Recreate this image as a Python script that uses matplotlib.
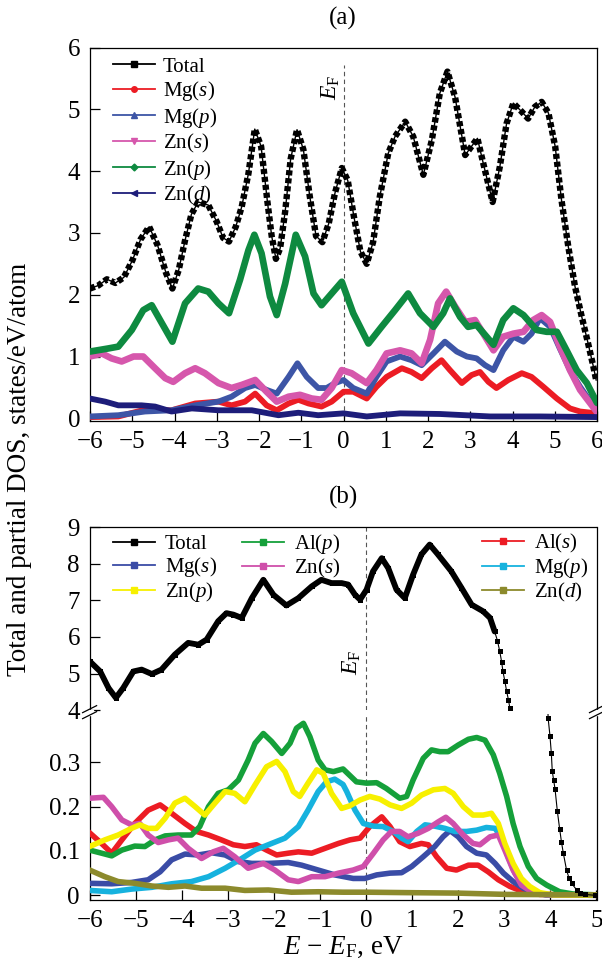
import numpy as np
import matplotlib
matplotlib.use("Agg")
import matplotlib.pyplot as plt
from matplotlib.lines import Line2D
from matplotlib.patches import Rectangle

plt.rcParams['font.family'] = ['Liberation Serif', 'DejaVu Serif']
plt.rcParams['mathtext.fontset'] = 'custom'
plt.rcParams['mathtext.rm'] = 'Liberation Serif'
plt.rcParams['mathtext.it'] = 'Liberation Serif:italic'
plt.rcParams['axes.linewidth'] = 0.9

# ---------------- Panel (a) data ----------------
E_tot_a = [-6.0, -5.8, -5.6, -5.4, -5.2, -5.0, -4.8, -4.6, -4.4, -4.2, -4.05, -3.9, -3.75, -3.6, -3.44,
           -3.2, -3.0, -2.85, -2.71, -2.55, -2.41, -2.25, -2.1, -1.95, -1.8, -1.7, -1.6, -1.5, -1.38,
           -1.25, -1.1, -0.95, -0.8, -0.65, -0.5, -0.35, -0.2, -0.04, 0.1, 0.25, 0.4, 0.55, 0.7, 0.86,
           1.06, 1.22, 1.46, 1.65, 1.89, 2.09, 2.28, 2.46, 2.64, 2.88, 3.03, 3.17, 3.31, 3.53, 3.70,
           3.86, 4.02, 4.22, 4.37, 4.53, 4.69, 4.85, 5.01, 5.16, 5.32, 5.48, 5.64, 5.79, 5.91, 5.98]
dos_tot_a = [2.10, 2.15, 2.25, 2.19, 2.28, 2.55, 2.90, 3.10, 2.80, 2.35, 2.10, 2.40, 2.88, 3.30, 3.50,
             3.45, 3.18, 2.92, 2.86, 3.10, 3.42, 3.96, 4.68, 4.40, 3.50, 2.95, 2.58, 2.75, 3.35,
             4.20, 4.67, 4.35, 3.60, 2.95, 2.85, 3.15, 3.65, 4.05, 3.85, 3.25, 2.70, 2.50, 2.85, 3.59,
             4.29, 4.56, 4.80, 4.56, 3.94, 4.50, 5.26, 5.61, 5.20, 4.26, 4.40, 4.53, 4.12, 3.50, 4.07,
             4.77, 5.10, 4.96, 4.85, 5.04, 5.12, 4.94, 4.40, 3.53, 2.78, 2.13, 1.64, 1.21, 0.85, 0.62]

E_mgs_a = [-6.0, -5.33, -4.7, -4.07, -3.51, -2.96, -2.65, -2.33, -2.09, -1.82, -1.58, -1.30, -1.07, -0.83,
           -0.52, -0.28, 0.0, 0.23, 0.55, 0.78, 1.02, 1.38, 1.61, 1.85, 2.09, 2.32, 2.52, 2.80, 3.03,
           3.23, 3.43, 3.62, 3.90, 4.22, 4.45, 4.73, 5.05, 5.36, 5.60, 6.0]
dos_mgs_a = [0.02, 0.03, 0.14, 0.13, 0.24, 0.27, 0.21, 0.27, 0.40, 0.21, 0.13, 0.24, 0.30, 0.24,
             0.19, 0.27, 0.43, 0.43, 0.32, 0.51, 0.67, 0.81, 0.75, 0.65, 0.81, 0.94, 0.78, 0.57, 0.70,
             0.75, 0.59, 0.49, 0.62, 0.73, 0.67, 0.51, 0.32, 0.16, 0.11, 0.08]

E_mgp_a = [-6.0, -5.33, -4.7, -4.07, -3.51, -2.96, -2.65, -2.33, -2.09, -1.82, -1.58, -1.30, -1.09, -0.87,
           -0.60, -0.40, -0.20, 0.0, 0.23, 0.55, 0.78, 1.02, 1.34, 1.61, 1.85, 2.13, 2.40, 2.68, 2.92,
           3.15, 3.35, 3.55, 3.78, 4.02, 4.26, 4.45, 4.65, 4.89, 5.12, 5.36, 5.60, 6.0]
dos_mgp_a = [0.03, 0.05, 0.11, 0.13, 0.21, 0.27, 0.35, 0.49, 0.54, 0.46, 0.40, 0.67, 0.89, 0.67,
             0.49, 0.49, 0.57, 0.62, 0.49, 0.40, 0.67, 0.92, 1.00, 0.94, 0.86, 1.05, 1.24, 1.08, 1.00,
             0.97, 0.86, 0.78, 1.10, 1.32, 1.24, 1.37, 1.62, 1.48, 1.13, 0.78, 0.51, 0.12]

E_zns_a = [-6.0, -5.72, -5.49, -5.25, -4.97, -4.74, -4.46, -4.22, -4.03, -3.75, -3.51, -3.28, -2.96, -2.65,
           -2.41, -2.09, -1.82, -1.58, -1.30, -1.03, -0.75, -0.52, -0.28, -0.04, 0.19, 0.55, 0.78, 1.02,
           1.34, 1.61, 1.85, 2.05, 2.24, 2.43, 2.64, 2.88, 3.11, 3.31, 3.55, 3.78, 4.02, 4.26, 4.49,
           4.69, 4.89, 5.12, 5.36, 5.60, 6.0]
dos_zns_a = [1.00, 1.05, 0.97, 0.92, 1.00, 1.00, 0.81, 0.65, 0.59, 0.73, 0.81, 0.73, 0.57, 0.49,
             0.54, 0.62, 0.43, 0.27, 0.35, 0.38, 0.32, 0.30, 0.49, 0.78, 0.73, 0.57, 0.78, 1.05,
             1.10, 1.05, 0.89, 1.27, 1.86, 2.05, 1.81, 1.56, 1.59, 1.37, 1.10, 1.32, 1.37, 1.40, 1.59,
             1.67, 1.56, 1.16, 0.78, 0.46, 0.10]

E_znp_a = [-6.0, -5.57, -5.33, -5.01, -4.74, -4.54, -4.30, -4.05, -3.75, -3.44, -3.20, -2.96, -2.71, -2.45,
           -2.25, -2.11, -1.94, -1.74, -1.58, -1.38, -1.13, -0.91, -0.71, -0.52, -0.28, -0.04, 0.23,
           0.59, 0.90, 1.22, 1.53, 1.81, 2.13, 2.36, 2.52, 2.76, 2.95, 3.15, 3.55, 3.78, 4.02, 4.26,
           4.57, 4.81, 5.05, 5.28, 5.52, 5.76, 6.0]
dos_znp_a = [1.08, 1.13, 1.16, 1.43, 1.75, 1.83, 1.54, 1.24, 1.86, 2.10, 2.05, 1.86, 1.70, 2.24,
             2.72, 2.97, 2.67, 1.97, 1.67, 2.18, 2.97, 2.62, 2.02, 1.83, 2.02, 2.21, 1.70,
             1.21, 1.48, 1.75, 2.02, 1.70, 1.48, 1.70, 1.94, 1.64, 1.48, 1.51, 1.19, 1.59, 1.78, 1.67,
             1.43, 1.40, 1.40, 1.10, 0.78, 0.57, 0.25]

E_znd_a = [-6.0, -5.64, -5.33, -4.78, -4.46, -4.07, -3.59, -2.96, -2.17, -1.54, -1.07, -0.60, 0.0, 0.55,
           1.34, 2.28, 3.47, 4.65, 6.0]
dos_znd_a = [0.32, 0.27, 0.21, 0.21, 0.19, 0.11, 0.16, 0.13, 0.13, 0.05, 0.09, 0.05, 0.08, 0.03,
             0.08, 0.07, 0.03, 0.03, 0.02]

# ---------------- Panel (b) data ----------------
E_tot_b = [-6.0, -5.77, -5.59, -5.43, -5.27, -5.05, -4.87, -4.65, -4.44, -4.15, -3.86, -3.64, -3.46, -3.21,
           -3.03, -2.88, -2.70, -2.48, -2.23, -2.01, -1.73, -1.47, -1.18, -0.97, -0.75, -0.53, -0.39,
           -0.24, -0.13, 0.01, 0.15, 0.34, 0.48, 0.66, 0.84, 1.02, 1.20, 1.38, 1.56, 1.85, 2.07, 2.29,
           2.54, 2.69, 2.79, 2.85, 2.90, 2.94, 2.97, 3.01, 3.05, 3.09, 3.12, 3.95, 3.99, 4.02, 4.04,
           4.07, 4.10, 4.15, 4.20, 4.24, 4.28, 4.35, 4.40, 4.46, 4.57, 4.65, 4.75, 4.96]
dos_tot_b = [5.34, 5.06, 4.61, 4.34, 4.61, 5.06, 5.11, 4.99, 5.11, 5.52, 5.84, 5.79, 5.93, 6.43,
             6.65, 6.61, 6.52, 7.06, 7.56, 7.15, 6.86, 7.06, 7.38, 7.56, 7.47, 7.47, 7.43,
             7.15, 7.02, 7.29, 7.79, 8.15, 7.88, 7.29, 7.06, 7.70, 8.25, 8.52, 8.25, 7.79, 7.34, 6.88,
             6.70, 6.52, 6.15, 5.90, 5.61, 5.33, 5.06, 4.80, 4.52, 4.28, 4.06, 0.40, 0.36, 0.32, 0.28,
             0.26, 0.24, 0.19, 0.15, 0.12, 0.095, 0.057, 0.040, 0.027, 0.012, 0.006, 0.002, 0.0]

E_alp_b = [-6.0, -5.74, -5.52, -5.30, -5.02, -4.80, -4.58, -4.36, -4.08, -3.79, -3.61, -3.42, -3.21, -2.99,
           -2.77, -2.56, -2.41, -2.23, -2.05, -1.83, -1.65, -1.51, -1.36, -1.22, -1.04, -0.89, -0.71,
           -0.50, -0.21, 0.01, 0.23, 0.44, 0.73, 0.88, 1.02, 1.24, 1.42, 1.60, 1.78, 2.00, 2.22, 2.40,
           2.58, 2.76, 2.90, 3.05, 3.19, 3.34, 3.52, 3.70, 3.92, 4.20, 4.49, 5.0]
dos_alp_b = [0.102, 0.095, 0.089, 0.102, 0.111, 0.110, 0.125, 0.134, 0.136, 0.136, 0.155, 0.200, 0.230, 0.238,
             0.260, 0.305, 0.343, 0.365, 0.347, 0.320, 0.343, 0.377, 0.388, 0.358, 0.305, 0.283, 0.279,
             0.285, 0.256, 0.253, 0.254, 0.241, 0.219, 0.223, 0.260, 0.309, 0.328, 0.324, 0.324, 0.339,
             0.352, 0.356, 0.350, 0.317, 0.275, 0.223, 0.162, 0.110, 0.065, 0.038, 0.023, 0.008, 0.003, 0.001]

E_als_b = [-6.0, -5.74, -5.52, -5.30, -5.02, -4.73, -4.47, -4.22, -3.93, -3.68, -3.42, -3.14, -2.88, -2.63,
           -2.38, -2.16, -1.94, -1.69, -1.47, -1.18, -0.89, -0.60, -0.35, -0.13, 0.08, 0.34, 0.52, 0.73,
           0.95, 1.20, 1.35, 1.53, 1.75, 1.96, 2.22, 2.43, 2.65, 2.87, 3.12, 3.41, 3.77, 5.0]
dos_als_b = [0.141, 0.117, 0.095, 0.125, 0.162, 0.192, 0.204, 0.185, 0.162, 0.144, 0.136, 0.125, 0.114, 0.110,
             0.114, 0.102, 0.091, 0.095, 0.098, 0.095, 0.106, 0.117, 0.125, 0.129, 0.155, 0.177, 0.155, 0.121,
             0.110, 0.117, 0.114, 0.087, 0.061, 0.057, 0.068, 0.068, 0.053, 0.035, 0.020, 0.008, 0.002, 0.0]

E_mgs_b = [-6.0, -5.52, -5.09, -4.73, -4.47, -4.22, -3.93, -3.64, -3.35, -3.06, -2.77, -2.48, -2.12, -1.69,
           -1.40, -1.04, -0.68, -0.28, -0.03, 0.23, 0.52, 0.77, 0.99, 1.24, 1.49, 1.67, 1.82, 2.00, 2.18,
           2.40, 2.61, 2.80, 2.98, 3.19, 3.41, 3.63, 3.92, 5.0]
dos_mgs_b = [0.027, 0.026, 0.029, 0.035, 0.053, 0.080, 0.093, 0.091, 0.096, 0.091, 0.076, 0.072, 0.072, 0.074,
             0.068, 0.057, 0.046, 0.038, 0.038, 0.046, 0.050, 0.051, 0.065, 0.087, 0.110, 0.132, 0.146, 0.132,
             0.110, 0.095, 0.091, 0.072, 0.050, 0.031, 0.016, 0.006, 0.001, 0.0]

E_mgp_b = [-6.0, -5.52, -5.09, -4.65, -4.22, -3.79, -3.42, -3.06, -2.70, -2.41, -2.05, -1.76, -1.47, -1.26,
           -1.04, -0.86, -0.68, -0.50, -0.42, -0.24, -0.06, 0.16, 0.37, 0.59, 0.77, 0.91, 1.10, 1.28, 1.49,
           1.71, 1.93, 2.18, 2.40, 2.61, 2.80, 2.94, 3.08, 3.23, 3.41, 3.63, 3.92, 5.0]
dos_mgp_b = [0.011, 0.008, 0.014, 0.018, 0.026, 0.031, 0.042, 0.061, 0.083, 0.102, 0.117, 0.129, 0.155, 0.192,
             0.234, 0.256, 0.262, 0.250, 0.234, 0.192, 0.162, 0.156, 0.155, 0.144, 0.129, 0.121, 0.144, 0.159,
             0.156, 0.151, 0.144, 0.144, 0.147, 0.153, 0.151, 0.129, 0.087, 0.050, 0.023, 0.008, 0.001, 0.0]

E_zns_b = [-6.0, -5.70, -5.52, -5.30, -5.09, -4.91, -4.73, -4.51, -4.29, -4.08, -3.86, -3.57, -3.32, -3.10,
           -2.85, -2.56, -2.23, -1.98, -1.69, -1.47, -1.18, -0.89, -0.60, -0.28, -0.06, 0.16, 0.37, 0.55,
           0.73, 0.91, 1.13, 1.35, 1.57, 1.73, 1.89, 2.11, 2.32, 2.47, 2.69, 2.87, 3.01, 3.19, 3.37,
           3.59, 3.92, 5.0]
dos_zns_b = [0.219, 0.221, 0.200, 0.170, 0.159, 0.162, 0.136, 0.119, 0.125, 0.129, 0.106, 0.083, 0.098, 0.106,
             0.087, 0.061, 0.072, 0.057, 0.035, 0.031, 0.042, 0.042, 0.050, 0.057, 0.065, 0.095, 0.125, 0.144,
             0.144, 0.132, 0.140, 0.151, 0.166, 0.176, 0.162, 0.136, 0.117, 0.114, 0.132, 0.136, 0.102, 0.057,
             0.023, 0.008, 0.001, 0.0]

E_znp_b = [-6.0, -5.67, -5.38, -5.09, -4.91, -4.73, -4.55, -4.36, -4.15, -3.93, -3.71, -3.50, -3.28, -3.06,
           -2.85, -2.63, -2.41, -2.16, -1.94, -1.76, -1.58, -1.44, -1.26, -1.07, -0.93, -0.75, -0.53, -0.35,
           -0.13, 0.08, 0.30, 0.52, 0.77, 0.99, 1.20, 1.46, 1.71, 1.89, 2.11, 2.32, 2.54, 2.72, 2.87,
           3.01, 3.19, 3.37, 3.55, 3.77, 4.06, 5.0]
dos_znp_b = [0.110, 0.125, 0.136, 0.151, 0.159, 0.151, 0.151, 0.174, 0.208, 0.219, 0.200, 0.181, 0.208, 0.234,
             0.230, 0.211, 0.249, 0.290, 0.302, 0.279, 0.234, 0.223, 0.253, 0.283, 0.275, 0.230, 0.196, 0.202,
             0.215, 0.223, 0.217, 0.204, 0.196, 0.208, 0.226, 0.238, 0.241, 0.230, 0.200, 0.181, 0.181, 0.185,
             0.162, 0.117, 0.072, 0.038, 0.020, 0.006, 0.001, 0.0]

E_znd_b = [-6.0, -5.67, -5.38, -5.02, -4.65, -4.29, -3.93, -3.57, -3.06, -2.63, -2.12, -1.62, -1.04, -0.50,
           0.01, 0.88, 1.96, 3.05, 5.0]
dos_znd_b = [0.057, 0.042, 0.031, 0.027, 0.021, 0.018, 0.021, 0.016, 0.016, 0.011, 0.012, 0.007, 0.008, 0.007,
             0.007, 0.006, 0.005, 0.002, 0.001]

ticks_a_x = list(range(-6, 7))
ticks_a_y = list(range(0, 7))
ticks_b_x = list(range(-6, 6))
ticks_b_up = [4, 5, 6, 7, 8, 9]
ticks_b_lo = [0, 0.1, 0.2, 0.3]
ticks_b_lo_lab = ['0', '0.1', '0.2', '0.3']

# ---------------- figure ----------------
W, H = 602, 969
fig = plt.figure(figsize=(W / 100, H / 100), dpi=100)


def fx(px):
    return px / W


def fy(py):
    return 1 - py / H


TICKFS = 18
LEGFS = 15


def style(ax):
    ax.tick_params(direction='in', length=7, width=0.9, labelsize=TICKFS,
                   top=False, right=False)
    ax.tick_params(axis='y', pad=7)
    ax.tick_params(axis='x', pad=7)


# Panel (a)
axA = fig.add_axes([fx(90), fy(421.4), fx(597) - fx(90), fy(47.5) - fy(421.4)])
axA.set_xlim(-6, 6)
axA.set_ylim(-0.05, 6)
axA.set_xticks(ticks_a_x)
axA.set_yticks(ticks_a_y)
style(axA)

c_mgs_a, c_mgp_a, c_zns_a, c_znp_a, c_znd_a = '#ec1c24', '#3d55a6', '#d657ac', '#0e8a40', '#1d1d7a'
axA.plot([0, 0], [0, 5.72], ls=(0, (4, 3)), color='#555555', lw=0.8, zorder=1)
axA.plot(E_mgs_a, dos_mgs_a, color=c_mgs_a, lw=4.2, solid_capstyle='round', zorder=3)
axA.plot(E_mgp_a, dos_mgp_a, color=c_mgp_a, lw=4.2, solid_capstyle='round', zorder=3)
axA.plot(E_zns_a, dos_zns_a, color=c_zns_a, lw=4.8, solid_capstyle='round', zorder=3)
axA.plot(E_znp_a, dos_znp_a, color=c_znp_a, lw=4.8, solid_capstyle='round', zorder=4)
axA.plot(E_znd_a, dos_znd_a, color=c_znd_a, lw=4.2, solid_capstyle='round', zorder=4)
# Total: thin line with a chain of square dots
axA.plot(E_tot_a, dos_tot_a, color='k', lw=1.0, zorder=5)
axA.plot(E_tot_a, dos_tot_a, color='k', lw=4.6, ls=(0, (0.8, 0.45)), dash_capstyle='butt', zorder=5)
axA.text(-0.3, 5.35, r'$E_{\mathrm{F}}$', rotation=90, ha='center', va='center', fontsize=17)
fig.text(fx(343), fy(18), '(a)', ha='center', va='center', fontsize=18)

hA = [Line2D([], [], color='k', lw=1.3, marker='s', ms=4),
      Line2D([], [], color=c_mgs_a, lw=1.3, marker='o', ms=4),
      Line2D([], [], color=c_mgp_a, lw=1.3, marker='^', ms=4),
      Line2D([], [], color=c_zns_a, lw=1.3, marker='v', ms=4),
      Line2D([], [], color=c_znp_a, lw=1.3, marker='D', ms=3.5),
      Line2D([], [], color=c_znd_a, lw=1.3, marker='<', ms=4)]
lA = ['Total', r'Mg($\mathit{s}$)', r'Mg($\mathit{p}$)', r'Zn($\mathit{s}$)', r'Zn($\mathit{p}$)',
      r'Zn($\mathit{d}$)']
axA.legend(hA, lA, loc='upper left', bbox_to_anchor=((113 - 90) / 507, 1 - (57 - 47.5) / 374),
           frameon=False, fontsize=LEGFS, handlelength=2.0, handletextpad=0.4,
           labelspacing=0.12, borderpad=0, borderaxespad=0)

# Panel (b)
xl, xr = 89.6, 596.5
axU = fig.add_axes([fx(xl), fy(710.3), fx(xr) - fx(xl), fy(527) - fy(710.3)])
axL = fig.add_axes([fx(xl), fy(900), fx(xr) - fx(xl), fy(714) - fy(900)])
for ax in (axU, axL):
    ax.set_xlim(-6, 5)
    ax.set_xticks(ticks_b_x)
    style(ax)
axU.set_ylim(4, 9)
axU.set_yticks(ticks_b_up)
axU.spines['bottom'].set_visible(False)
axU.tick_params(axis='x', bottom=False, labelbottom=False)
axL.set_ylim(-0.0106, (895.3 - 714) / 443.3)
axL.set_yticks(ticks_b_lo)
axL.set_yticklabels(ticks_b_lo_lab)
axL.spines['top'].set_visible(False)

c_alp, c_als, c_mgs, c_mgp, c_zns, c_znp, c_znd = ('#15a03a', '#ec1c24', '#3a4ca6', '#16b2de',
                                                   '#cf4faa', '#f7f000', '#8c8a2c')
for ax in (axU, axL):
    ax.axvline(0, ls=(0, (4, 3)), color='#555555', lw=0.8, zorder=1)

LWB = 4.0
axL.plot(E_als_b, dos_als_b, color=c_als, lw=LWB, zorder=3)
axL.plot(E_alp_b, dos_alp_b, color=c_alp, lw=LWB, zorder=3)
axL.plot(E_mgs_b, dos_mgs_b, color=c_mgs, lw=LWB, zorder=3)
axL.plot(E_mgp_b, dos_mgp_b, color=c_mgp, lw=LWB, zorder=3)
axL.plot(E_zns_b, dos_zns_b, color=c_zns, lw=LWB, zorder=3)
axL.plot(E_znp_b, dos_znp_b, color=c_znp, lw=LWB, zorder=3)
axL.plot(E_znd_b, dos_znd_b, color=c_znd, lw=LWB, zorder=4)
for ax in (axU, axL):
    ax.plot(E_tot_b, dos_tot_b, color='k', lw=0.8, marker='s', ms=3.6, mew=0, zorder=5)
E_tb = np.array(E_tot_b)
D_tb = np.array(dos_tot_b)
dense = E_tb <= 2.8
axU.plot(E_tb[dense], D_tb[dense], color='k', lw=4.2, solid_capstyle='round', zorder=5)

axU.text(-0.3, 5.3, r'$E_{\mathrm{F}}$', rotation=90, ha='center', va='center', fontsize=17)
fig.text(fx(343), fy(497), '(b)', ha='center', va='center', fontsize=18)

hB1 = [Line2D([], [], color='k', lw=1.3, marker='s', ms=4),
       Line2D([], [], color=c_mgs, lw=1.3, marker='s', ms=4),
       Line2D([], [], color=c_znp, lw=1.3, marker='s', ms=4),
       Line2D([], [], color=c_alp, lw=1.3, marker='s', ms=4),
       Line2D([], [], color=c_zns, lw=1.3, marker='s', ms=4)]
lB1 = ['Total', r'Mg($\mathit{s}$)', r'Zn($\mathit{p}$)', r'Al($\mathit{p}$)', r'Zn($\mathit{s}$)']
leg1 = axU.legend(hB1, lB1, ncol=2, loc='upper left',
                  bbox_to_anchor=((113 - xl) / (xr - xl), 1 - (532 - 527) / 183.3),
                  frameon=False, fontsize=LEGFS, handlelength=2.0, handletextpad=0.5,
                  labelspacing=0.05, columnspacing=1.2, borderpad=0, borderaxespad=0)
axU.add_artist(leg1)
hB2 = [Line2D([], [], color=c_als, lw=1.3, marker='s', ms=4),
       Line2D([], [], color=c_mgp, lw=1.3, marker='s', ms=4),
       Line2D([], [], color=c_znd, lw=1.3, marker='s', ms=4)]
lB2 = [r'Al($\mathit{s}$)', r'Mg($\mathit{p}$)', r'Zn($\mathit{d}$)']
axU.legend(hB2, lB2, loc='upper left',
           bbox_to_anchor=((482 - xl) / (xr - xl), 1 - (532 - 527) / 183.3),
           frameon=False, fontsize=LEGFS, handlelength=2.0, handletextpad=0.5,
           labelspacing=0.05, borderpad=0, borderaxespad=0)

# break marks
Yb = (710.3 + 714) / 2
for xp in (xl, xr):
    fig.add_artist(Rectangle((fx(xp - 3), fy(Yb + 2.5)), fx(6), fy(Yb - 2.5) - fy(Yb + 2.5),
                             transform=fig.transFigure, color='white', zorder=10))
    for d in (-3, 3):
        fig.add_artist(Line2D([fx(xp - 7), fx(xp + 7)], [fy(Yb + d + 3.5), fy(Yb + d - 3.5)],
                              transform=fig.transFigure, color='k', lw=0.9, zorder=11))

axL.set_xlabel(r'$E$ $-$ $E_{\mathrm{F}}$, eV', fontsize=19.5, labelpad=2)
fig.text(fx(20), fy(469), 'Total and partial DOS, states/eV/atom', rotation=90,
         ha='center', va='center', fontsize=19.5)

fig.savefig('out.png', dpi=100)
